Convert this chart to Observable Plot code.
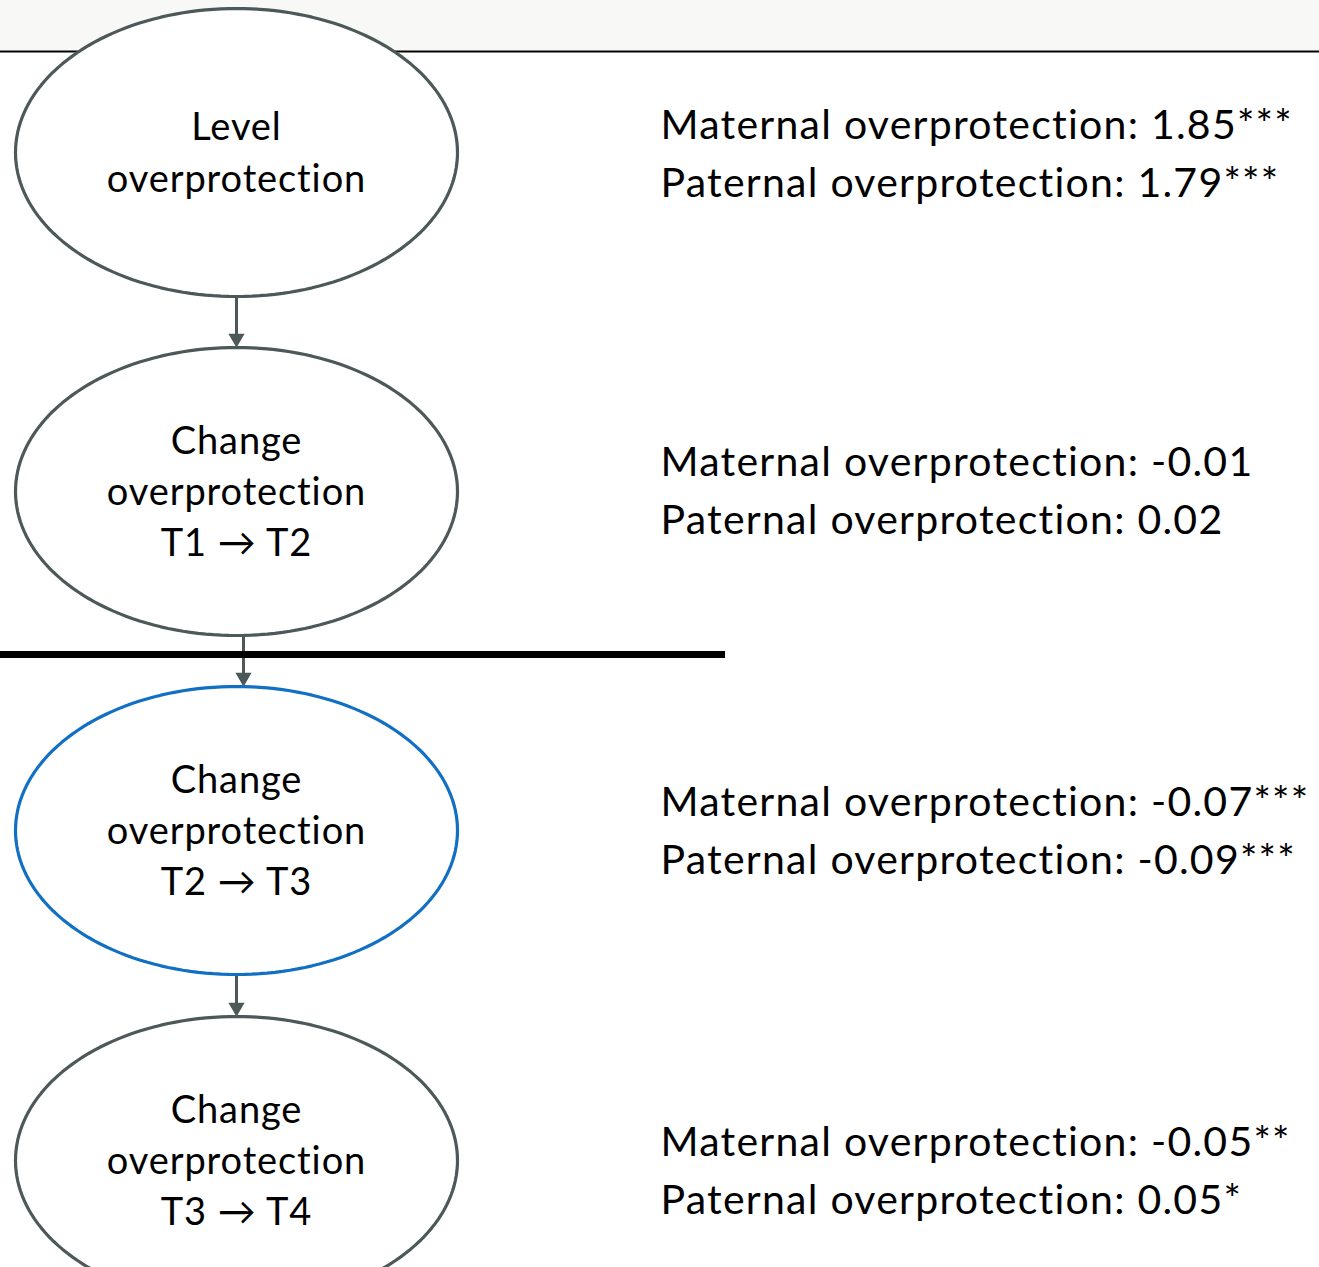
<!DOCTYPE html>
<html>
<head>
<meta charset="utf-8">
<script src="https://cdn.jsdelivr.net/npm/d3@7"></script>
<script src="https://cdn.jsdelivr.net/npm/@observablehq/plot@0.6"></script>
<style>
  html, body { margin: 0; padding: 0; background: #ffffff; }
  #chart svg { display: block; }
</style>
</head>
<body>
<div id="chart"></div>
<script>
// ---- data ----
const nodeLabels = [
  "Level\noverprotection",
  "Change\noverprotection\nT1 \u2192 T2",
  "Change\noverprotection\nT2 \u2192 T3",
  "Change\noverprotection\nT3 \u2192 T4"
];
const highlighted = [false, false, true, false];
const maternalEst = ["1.85", "-0.01", "-0.07", "-0.05"];
const maternalSig = ["***", "", "***", "**"];
const paternalEst = ["1.79", "0.02", "-0.09", "0.05"];
const paternalSig = ["***", "", "***", "*"];

// ---- layout ----
const W = 1319, H = 1267;
const cx = 236, rx = 221, ry = 144;
const centersY = [152, 491, 830, 1160];
const textCentersY = [149, 486, 826, 1166];
const arrowX = [236, 243, 236];
const textX = 660;
const FONT = "Lato, 'Open Sans', sans-serif";

const nodes = nodeLabels.map((label, i) => ({
  i, label, cy: centersY[i], hl: highlighted[i]
}));

// ellipse outlines as closed polylines
const ellipsePts = [];
for (const n of nodes) {
  for (let k = 0; k < 180; k++) {
    const t = (k / 180) * 2 * Math.PI;
    ellipsePts.push({ i: n.i, hl: n.hl, x: cx + rx * Math.cos(t), y: n.cy + ry * Math.sin(t) });
  }
}

const arrows = d3.range(nodes.length - 1).map(i => ({
  x: arrowX[i], y1: nodes[i].cy + ry, y2: nodes[i + 1].cy - ry
}));

const results = nodes.map((n, i) => ({
  y: textCentersY[i],
  text: `Maternal overprotection: ${maternalEst[i]}${maternalSig[i]}\nPaternal overprotection: ${paternalEst[i]}${paternalSig[i]}`
}));

const chart = Plot.plot({
  width: W,
  height: H,
  margin: 0,
  style: { background: "#ffffff", fontFamily: FONT },
  x: { domain: [0, W], range: [0, W], axis: null },
  y: { domain: [0, H], range: [0, H], axis: null },
  marks: [
    Plot.rect([0], { x1: 0, x2: W, y1: 0, y2: 50, fill: "#f8f8f6" }),
    Plot.ruleY([51], { x1: 0, x2: W, stroke: "#000000", strokeWidth: 2 }),
    Plot.link(arrows, {
      x1: "x", x2: "x", y1: "y1", y2: d => d.y2 - 10,
      stroke: "#4d5859", strokeWidth: 3
    }),
    Plot.dot(arrows, {
      x: "x", y: "y2", dy: -9, symbol: "triangle", r: 6, rotate: 180,
      fill: "#4d5859", stroke: "none"
    }),
    Plot.ruleY([654], { x1: 0, x2: 725, stroke: "#000000", strokeWidth: 7 }),
    Plot.line(ellipsePts, {
      x: "x", y: "y", z: "i", curve: "linear-closed",
      fill: "#ffffff",
      stroke: d => d.hl ? "#1170c4" : "#4d5859",
      strokeWidth: 3.2
    }),
    Plot.text(nodes, {
      x: cx, y: d => d.cy - 3,
      text: "label", fontSize: 38, lineHeight: 1.355,
      fill: "#000000", textAnchor: "middle", lineAnchor: "middle",
      fontFamily: FONT
    }),
    Plot.text(results, {
      x: textX, y: "y", text: "text", fontSize: 41, lineHeight: 1.41,
      fill: "#000000", textAnchor: "start", lineAnchor: "middle",
      fontFamily: FONT
    })
  ]
});

// letter spacing to approximate the wider original typeface
d3.select(chart).selectAll("text").each(function () {
  const isResult = this.textContent.includes("overprotection:");
  this.style.letterSpacing = isResult ? "1.25px" : "0.9px";
});

document.getElementById("chart").appendChild(chart);
</script>
</body>
</html>
